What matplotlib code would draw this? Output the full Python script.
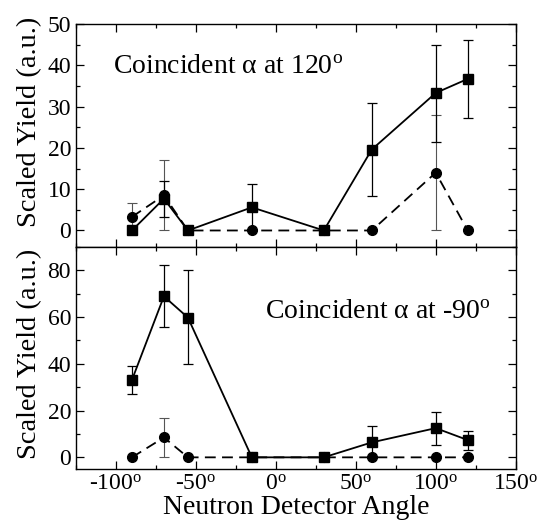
import numpy as np
import matplotlib.pyplot as plt
from matplotlib.ticker import MultipleLocator

plt.rcParams['font.family'] = ['Liberation Serif', 'DejaVu Serif']
plt.rcParams['mathtext.fontset'] = 'custom'
plt.rcParams['mathtext.rm'] = 'Liberation Serif'
plt.rcParams['mathtext.it'] = 'Liberation Serif:italic'

angles = [-90, -70, -55, -15, 30, 60, 100, 120]

# alpha at 120 deg
top_sq = [0, 7.7, 0, 5.6, 0, 19.6, 33.3, 36.7]
top_sq_lo = [0, 4.4, 0, 5.6, 0, 11.3, 11.9, 9.4]
top_sq_hi = [0, 4.4, 0, 5.6, 0, 11.3, 11.7, 9.5]
top_ci = [3.3, 8.5, 0, 0, 0, 0, 14.0, 0]
top_ci_lo = [3.3, 8.5, 0, 0, 0, 0, 14.0, 0]
top_ci_hi = [3.4, 8.5, 0, 0, 0, 0, 14.0, 0]

# alpha at -90 deg
bot_sq = [33.1, 68.9, 59.8, 0, 0, 6.4, 12.5, 7.4]
bot_sq_lo = [5.8, 13.2, 19.8, 0, 0, 6.4, 7.1, 4.3]
bot_sq_hi = [5.8, 13.2, 20.2, 0, 0, 6.8, 7.1, 4.0]
bot_ci = [0, 8.5, 0, 0, 0, 0, 0, 0]
bot_ci_lo = [0, 8.5, 0, 0, 0, 0, 0, 0]
bot_ci_hi = [0, 8.5, 0, 0, 0, 0, 0, 0]

fig = plt.figure(figsize=(5.37, 5.27), dpi=100)
ax1 = fig.add_axes([0.1415, 0.5313, 0.8188, 0.4232])
ax2 = fig.add_axes([0.1415, 0.110, 0.8188, 0.4213], sharex=ax1)

def draw(ax, sq, sq_lo, sq_hi, ci, ci_lo, ci_hi):
    ax.errorbar(angles, ci, yerr=[ci_lo, ci_hi], fmt='o', color='k', ms=7,
                ls=(0, (6, 3.5)), lw=1.3, ecolor='#555555', elinewidth=0.8, capsize=3.5, capthick=0.8)
    ax.errorbar(angles, sq, yerr=[sq_lo, sq_hi], fmt='s', color='k', ms=6.5,
                ls='-', lw=1.3, ecolor='k', elinewidth=0.9, capsize=3.5, capthick=0.9)
    ax.tick_params(which='both', direction='in', top=True, right=True, labelsize=17, width=0.9)
    ax.tick_params(which='major', length=6)
    ax.tick_params(which='minor', length=3)
    ax.xaxis.set_minor_locator(MultipleLocator(25))
    for s in ax.spines.values():
        s.set_linewidth(1.0)
    ax.set_ylabel('Scaled Yield (a.u.)', fontsize=20.5)

draw(ax1, top_sq, top_sq_lo, top_sq_hi, top_ci, top_ci_lo, top_ci_hi)
draw(ax2, bot_sq, bot_sq_lo, bot_sq_hi, bot_ci, bot_ci_lo, bot_ci_hi)
ax1.yaxis.set_label_coords(-0.078, 0.563)
ax2.yaxis.set_label_coords(-0.078, 0.52)

ax1.set_xlim(-125, 150)
ax1.set_xticks([-100, -50, 0, 50, 100, 150])
ax1.set_ylim(-4, 50)
ax1.yaxis.set_major_locator(MultipleLocator(10))
ax1.yaxis.set_minor_locator(MultipleLocator(5))
ax1.tick_params(labelbottom=False)

ax2.set_ylim(-5, 90)
ax2.yaxis.set_major_locator(MultipleLocator(20))
ax2.yaxis.set_minor_locator(MultipleLocator(10))
ax2.set_xticklabels(['-100$^{\\mathrm{o}}$', '-50$^{\\mathrm{o}}$', '0$^{\\mathrm{o}}$',
                     '50$^{\\mathrm{o}}$', '100$^{\\mathrm{o}}$', '150$^{\\mathrm{o}}$'])
ax2.set_xlabel('Neutron Detector Angle', fontsize=20, labelpad=0)

ax1.text(0.084, 0.78, 'Coincident α at 120$^{\\mathrm{o}}$', transform=ax1.transAxes,
         fontsize=20, va='baseline')
ax2.text(0.43, 0.68, 'Coincident α at -90$^{\\mathrm{o}}$', transform=ax2.transAxes,
         fontsize=20, va='baseline')

fig.savefig('out.png', dpi=100)
